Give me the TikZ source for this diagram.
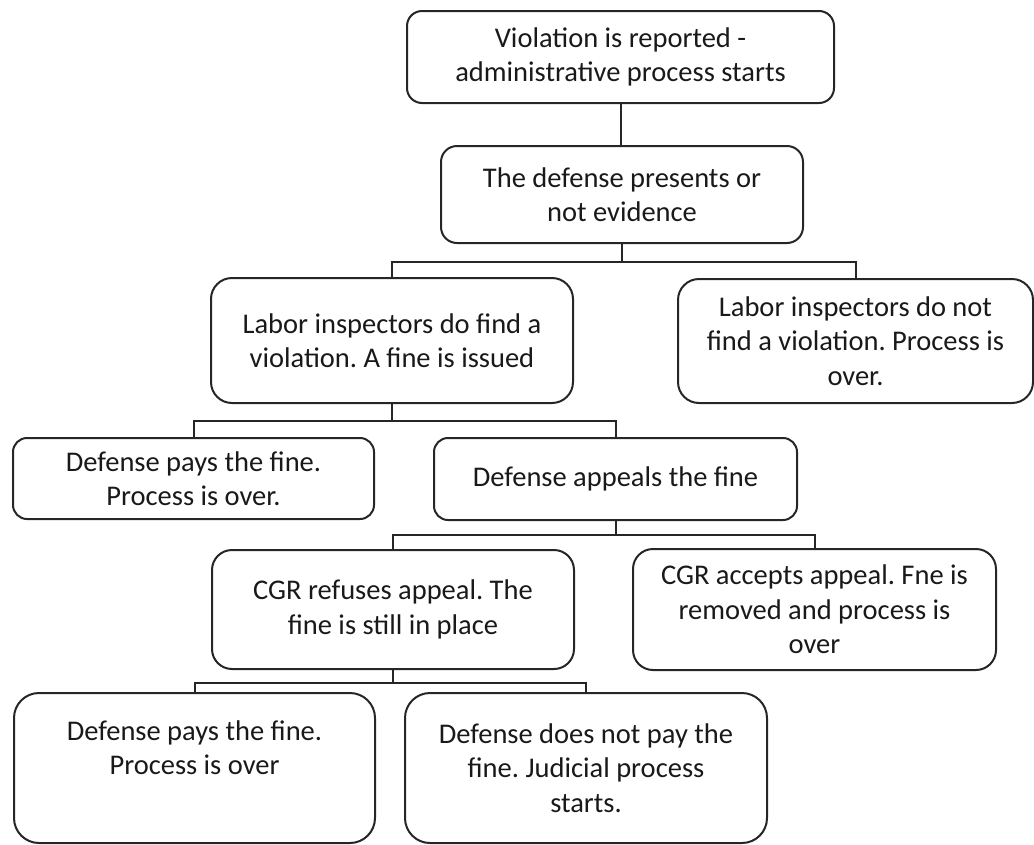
\documentclass[tikz,border=0pt]{standalone}
\usepackage{fontspec}
\setmainfont{Carlito}
\frenchspacing

\begin{document}
\begin{tikzpicture}
                [
                    x=1pt, y=-1pt,
                    box/.style = {rectangle, draw=black!85, line width=2pt, rounded corners=#1, align=center, anchor=north west, inner sep=0pt, text=black!90, font=\fontsize{28.5}{34.5}\selectfont},
                    box/.default = 16pt,
                    link/.style = {draw=black!85, line width=2pt}
                ]
                \useasboundingbox (0,0) rectangle (1034,844);

                \node (report) [box=15pt, minimum width=427pt, minimum height=92pt] at (406,10) {Violation is reported -\\administrative process starts};
                \node (evidence) [box=16pt, minimum width=362pt, minimum height=97pt] at (440,145) {The defense presents or\\not evidence};
                \node (fine) [box=21pt, minimum width=362pt, minimum height=125pt] at (210,277) {Labor inspectors do find a\\violation. A fine is issued};
                \node (nofine) [box=21pt, minimum width=355pt, minimum height=124pt] at (677,278) {Labor inspectors do not\\find a violation. Process is\\over.};
                \node (pays) [box=14pt, minimum width=361pt, minimum height=81pt] at (12,437) {Defense pays the fine.\\Process is over.};
                \node (appeal) [box=14pt, minimum width=363pt, minimum height=82pt] at (433,437) {Defense appeals the fine};
                \node (refused) [box=20pt, minimum width=362pt, minimum height=119pt] at (211,549) {CGR refuses appeal. The\\fine is still in place};
                \node (accepted) [box=20pt, minimum width=363pt, minimum height=121pt] at (632,548) {CGR accepts appeal. Fne is\\removed and process is\\over};
                \node (paysagain) [box=25pt, minimum width=361pt, minimum height=150pt, text depth=41pt] at (13,692) {Defense pays the fine.\\Process is over};
                \node (judicial) [box=25pt, minimum width=362pt, minimum height=150pt] at (404,692) {Defense does not pay the\\fine. Judicial process\\starts.};

                \draw[link] (report.south) -- (report.south |- evidence.north);
                \draw[link] (evidence.south) -- ++(0,18) -| (fine.north);
                \draw[link] (evidence.south) -- ++(0,18) -| (nofine.north);
                \draw[link] (fine.south) -- ++(0,17) -| (pays.north);
                \draw[link] (fine.south) -- ++(0,17) -| (appeal.north);
                \draw[link] (appeal.south) -- ++(0,14) -| (refused.north);
                \draw[link] (appeal.south) -- ++(0,14) -| (accepted.north);
                \draw[link] (refused.south) -- ++(0,13) -| (paysagain.north);
                \draw[link] (refused.south) -- ++(0,13) -| (judicial.north);

            \end{tikzpicture}
\end{document}
